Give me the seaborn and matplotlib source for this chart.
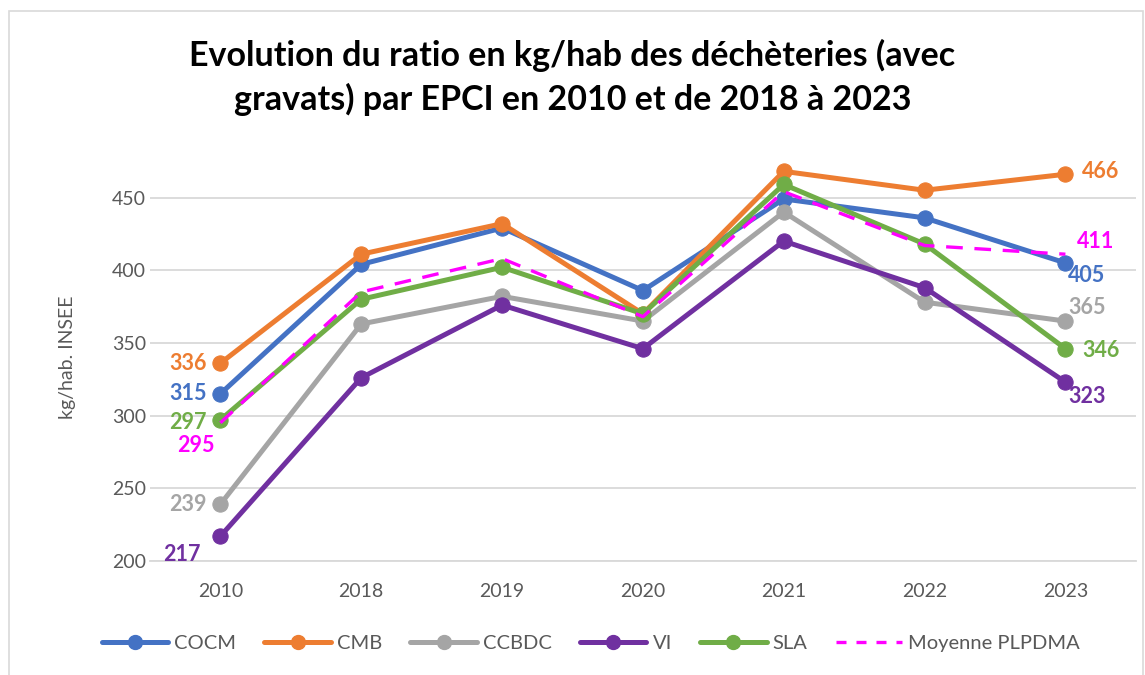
import matplotlib
matplotlib.use("Agg")
import matplotlib.pyplot as plt
import seaborn as sns
import pandas as pd
from matplotlib.lines import Line2D

years = ["2010", "2018", "2019", "2020", "2021", "2022", "2023"]
cocm = [315, 404, 429, 386, 449, 436, 405]
cmb = [336, 411, 432, 370, 468, 455, 466]
ccbdc = [239, 363, 382, 365, 440, 378, 365]
vi = [217, 326, 376, 346, 420, 388, 323]
sla = [297, 380, 402, 370, 459, 418, 346]
moyenne = [295, 385, 408, 368, 454, 417, 411]

series_names = ["COCM", "CMB", "CCBDC", "VI", "SLA", "Moyenne PLPDMA"]
series_values = [cocm, cmb, ccbdc, vi, sla, moyenne]
colors = ["#4472C4", "#ED7D31", "#A5A5A5", "#7030A0", "#70AD47", "#FF00FF"]

sns.set_theme(style="white")
plt.rcParams["font.family"] = ["Lato", "DejaVu Sans"]

fig = plt.figure(figsize=(11.45, 6.75), dpi=100)
ax = fig.add_axes([0.131, 0.169, 0.861, 0.603])

rows = []
for name, vals in zip(series_names, series_values):
    for i, v in enumerate(vals):
        rows.append({"serie": name, "x": i, "value": v})
df = pd.DataFrame(rows)

for name, col in zip(series_names, colors):
    sub = df[df["serie"] == name]
    if name == "Moyenne PLPDMA":
        sns.lineplot(data=sub, x="x", y="value", ax=ax, color=col, lw=2.4,
                     legend=False, zorder=5)
        ax.lines[-1].set_dashes([5, 3.5])
    else:
        sns.lineplot(data=sub, x="x", y="value", ax=ax, color=col, lw=3.6,
                     marker="o", markersize=11, markeredgecolor=col,
                     legend=False, zorder=4)

ax.set_xlim(-0.5, 6.5)
ax.set_ylim(200, 480)
ax.set_yticks([200, 250, 300, 350, 400, 450])
ax.set_xticks(range(len(years)))
ax.set_xticklabels(years)
ax.tick_params(axis="y", labelsize=14, colors="#595959", length=0, pad=3)
ax.tick_params(axis="x", labelsize=14, colors="#595959", length=0, pad=16)
ax.grid(axis="y", color="#D9D9D9", lw=1.3)
ax.set_axisbelow(True)
for s in ["top", "right", "left"]:
    ax.spines[s].set_visible(False)
ax.spines["bottom"].set_color("#D9D9D9")
ax.spines["bottom"].set_linewidth(1.3)
ax.set_xlabel("")
ax.set_ylabel("kg/hab. INSEE", fontsize=14, color="#595959", labelpad=26)

# data labels
lab_kw = dict(fontsize=15.5, fontweight="bold")
first_offsets = {"COCM": (-10, 0, "right", "center"),
                 "CMB": (-10, 0, "right", "center"),
                 "CCBDC": (-10, 0, "right", "center"),
                 "VI": (-14, -13, "right", "center"),
                 "SLA": (-10, -2, "right", "center"),
                 "Moyenne PLPDMA": (-4, -16, "right", "center")}
last_offsets = {"COCM": (2, -9, "left", "center"),
                "CMB": (12, 2, "left", "center"),
                "CCBDC": (2, 10, "left", "center"),
                "VI": (2, -10, "left", "center"),
                "SLA": (12, -1, "left", "center"),
                "Moyenne PLPDMA": (8, 9, "left", "center")}
for name, vals, col in zip(series_names, series_values, colors):
    dx, dy, ha, va = first_offsets[name]
    ax.annotate(str(vals[0]), (0, vals[0]), xytext=(dx, dy),
                textcoords="offset points", ha=ha, va=va, color=col, **lab_kw)
    dx, dy, ha, va = last_offsets[name]
    ax.annotate(str(vals[-1]), (6, vals[-1]), xytext=(dx, dy),
                textcoords="offset points", ha=ha, va=va, color=col, **lab_kw)

fig.text(0.5, 0.918, "Evolution du ratio en kg/hab des déchèteries (avec",
         ha="center", va="center", fontsize=24.5, fontweight="bold", color="#000000")
fig.text(0.5, 0.852, "gravats) par EPCI en 2010 et de 2018 à 2023",
         ha="center", va="center", fontsize=24.5, fontweight="bold", color="#000000")

handles = []
for name, col in zip(series_names, colors):
    if name == "Moyenne PLPDMA":
        h = Line2D([], [], color=col, lw=2.4, dashes=[3, 3])
    else:
        h = Line2D([], [], color=col, lw=3.6, marker="o", markersize=10)
    handles.append(h)
fig.legend(handles, series_names, loc="center", bbox_to_anchor=(0.516, 0.047),
           ncol=6, frameon=False, fontsize=14.5, handlelength=3.3,
           columnspacing=1.4, handletextpad=0.3, labelcolor="#595959")

border = plt.Rectangle((0.008, -0.01), 0.99, 0.993, transform=fig.transFigure,
                       fill=False, edgecolor="#D9D9D9", lw=1.2)
fig.patches.append(border)

fig.savefig("out.png", dpi=100, facecolor="white")
